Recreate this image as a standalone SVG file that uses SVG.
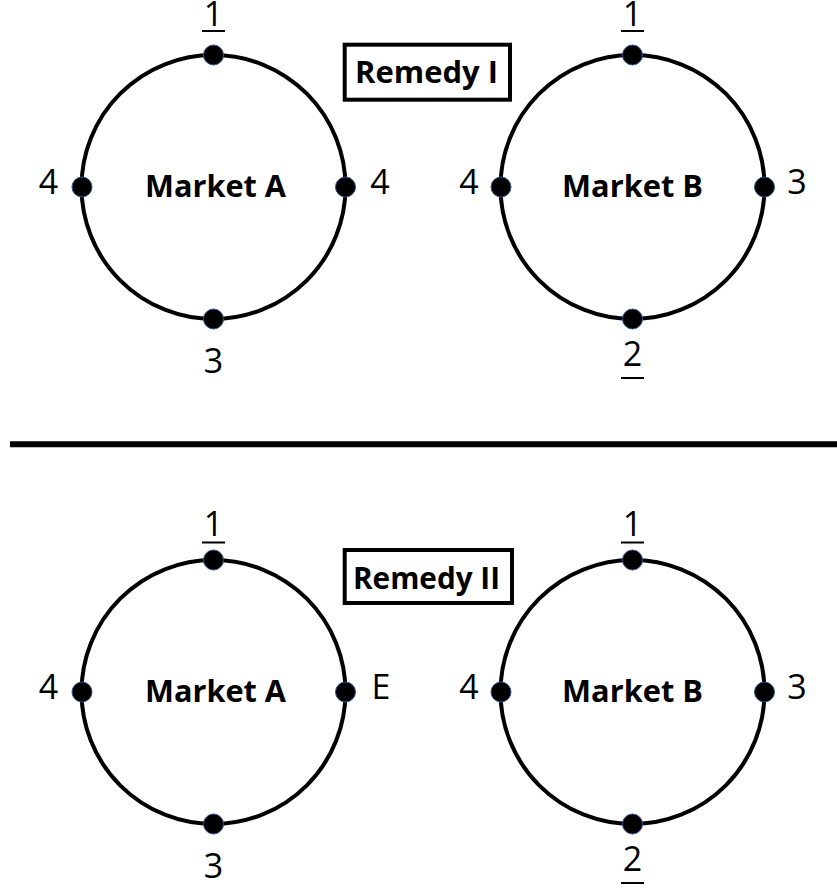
<svg xmlns="http://www.w3.org/2000/svg" width="837" height="895" viewBox="0 0 837 895">
<style>
.ring{fill:none;stroke:#000;stroke-width:4}
.dot{fill:#000;stroke:#2F528F;stroke-width:1}
.num{font-family:"Open Sans","Liberation Sans",sans-serif;font-size:34px;fill:#000;text-anchor:middle}
.lbl{font-family:"Open Sans","Liberation Sans",sans-serif;font-size:30px;font-weight:bold;fill:#000;text-anchor:middle}
.box{fill:#fff;stroke:#000;stroke-width:4}
.ul{stroke:#000;stroke-width:2}
</style>
<g id="connectors">
<line x1="10" y1="444.3" x2="837" y2="444.3" stroke="#000" stroke-width="6"/>
</g>
<g id="remedy1">
<rect class="box" x="344.7" y="44.7" width="165.3" height="55"/>
<text class="lbl" x="426.5" y="83.3" textLength="143" lengthAdjust="spacingAndGlyphs">Remedy I</text>
</g>
<g id="marketA1">
<circle class="ring" cx="213.5" cy="187" r="132"/>
<text class="lbl" x="215.5" y="196.7" textLength="141" lengthAdjust="spacingAndGlyphs">Market A</text>
<circle class="dot" cx="213.5" cy="55" r="10"/>
<circle class="dot" cx="82" cy="187" r="10"/>
<circle class="dot" cx="345.5" cy="187" r="10"/>
<circle class="dot" cx="213.5" cy="319" r="10"/>
<text class="num" x="213.5" y="26">1</text>
<line class="ul" x1="202" y1="31" x2="225" y2="31"/>
<text class="num" x="48.5" y="194">4</text>
<text class="num" x="380" y="194">4</text>
<text class="num" x="213.5" y="373">3</text>
</g>
<g id="marketB1">
<circle class="ring" cx="632.5" cy="187" r="132"/>
<text class="lbl" x="632.5" y="196.7" textLength="141" lengthAdjust="spacingAndGlyphs">Market B</text>
<circle class="dot" cx="632.5" cy="55" r="10"/>
<circle class="dot" cx="501" cy="187" r="10"/>
<circle class="dot" cx="764.5" cy="187" r="10"/>
<circle class="dot" cx="632.5" cy="319" r="10"/>
<text class="num" x="632.5" y="26">1</text>
<line class="ul" x1="621" y1="31" x2="644" y2="31"/>
<text class="num" x="469" y="194">4</text>
<text class="num" x="797" y="194">3</text>
<text class="num" x="632.5" y="366">2</text>
<line class="ul" x1="621" y1="378" x2="644" y2="378"/>
</g>
<g id="remedy2">
<rect class="box" x="344.7" y="550" width="167.3" height="53"/>
<text class="lbl" x="426.5" y="589" textLength="147" lengthAdjust="spacingAndGlyphs">Remedy II</text>
</g>
<g id="marketA2">
<circle class="ring" cx="213.5" cy="692" r="132"/>
<text class="lbl" x="215.5" y="701.7" textLength="141" lengthAdjust="spacingAndGlyphs">Market A</text>
<circle class="dot" cx="213.5" cy="560" r="10"/>
<circle class="dot" cx="82" cy="692" r="10"/>
<circle class="dot" cx="345.5" cy="692" r="10"/>
<circle class="dot" cx="213.5" cy="824" r="10"/>
<text class="num" x="213.5" y="536">1</text>
<line class="ul" x1="202" y1="542.5" x2="225" y2="542.5"/>
<text class="num" x="48.5" y="699">4</text>
<text class="num" x="381" y="699">E</text>
<text class="num" x="213.5" y="878">3</text>
</g>
<g id="marketB2">
<circle class="ring" cx="632.5" cy="692" r="132"/>
<text class="lbl" x="632.5" y="701.7" textLength="141" lengthAdjust="spacingAndGlyphs">Market B</text>
<circle class="dot" cx="632.5" cy="560" r="10"/>
<circle class="dot" cx="501" cy="692" r="10"/>
<circle class="dot" cx="764.5" cy="692" r="10"/>
<circle class="dot" cx="632.5" cy="824" r="10"/>
<text class="num" x="632.5" y="536">1</text>
<line class="ul" x1="621" y1="542.5" x2="644" y2="542.5"/>
<text class="num" x="469" y="699">4</text>
<text class="num" x="797" y="699">3</text>
<text class="num" x="632.5" y="871">2</text>
<line class="ul" x1="621" y1="883" x2="644" y2="883"/>
</g>
</svg>
